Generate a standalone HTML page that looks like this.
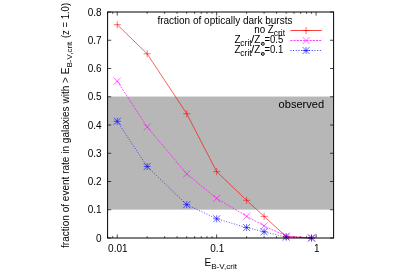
<!DOCTYPE html><html><head><meta charset="utf-8"><style>html,body{margin:0;padding:0;background:#fff}svg{display:block}svg{will-change:transform}text{font-family:"Liberation Sans",sans-serif;fill:#000}</style></head><body>
<svg width="400" height="280" viewBox="0 0 400 280">
<rect width="400" height="280" fill="#fff"/>
<rect x="107.6" y="96.55" width="226.00" height="113.10" fill="#b7b7b7"/>
<path d="M107.6 238.00h3.6M333.6 238.00h-3.6M107.6 209.75h3.6M333.6 209.75h-3.6M107.6 181.50h3.6M333.6 181.50h-3.6M107.6 153.25h3.6M333.6 153.25h-3.6M107.6 125.00h3.6M333.6 125.00h-3.6M107.6 96.75h3.6M333.6 96.75h-3.6M107.6 68.50h3.6M333.6 68.50h-3.6M107.6 40.25h3.6M333.6 40.25h-3.6M107.6 12.00h3.6M333.6 12.00h-3.6M107.60 238.0v-1.8M107.60 12.0v1.8M112.69 238.0v-1.8M112.69 12.0v1.8M117.24 238.0v-3.6M117.24 12.0v3.6M147.17 238.0v-1.8M147.17 12.0v1.8M164.67 238.0v-1.8M164.67 12.0v1.8M177.10 238.0v-1.8M177.10 12.0v1.8M186.73 238.0v-1.8M186.73 12.0v1.8M194.61 238.0v-1.8M194.61 12.0v1.8M201.26 238.0v-1.8M201.26 12.0v1.8M207.03 238.0v-1.8M207.03 12.0v1.8M212.11 238.0v-1.8M212.11 12.0v1.8M216.66 238.0v-3.6M216.66 12.0v3.6M246.59 238.0v-1.8M246.59 12.0v1.8M264.10 238.0v-1.8M264.10 12.0v1.8M276.53 238.0v-1.8M276.53 12.0v1.8M286.16 238.0v-1.8M286.16 12.0v1.8M294.03 238.0v-1.8M294.03 12.0v1.8M300.69 238.0v-1.8M300.69 12.0v1.8M306.46 238.0v-1.8M306.46 12.0v1.8M311.54 238.0v-1.8M311.54 12.0v1.8M316.09 238.0v-3.6M316.09 12.0v3.6" stroke="#000" stroke-width="0.7" fill="none"/>
<polyline points="117.24,24.71 147.17,53.81 186.73,113.70 216.66,171.61 246.59,200.29 264.10,216.39 286.16,236.59 311.54,238.00" fill="none" stroke="#ff0000" stroke-width="0.63"/>
<path d="M113.74 24.71h7.0M117.24 21.21v7.0" stroke="#ff0000" stroke-width="0.58" fill="none"/>
<path d="M143.67 53.81h7.0M147.17 50.31v7.0" stroke="#ff0000" stroke-width="0.58" fill="none"/>
<path d="M183.23 113.70h7.0M186.73 110.20v7.0" stroke="#ff0000" stroke-width="0.58" fill="none"/>
<path d="M213.16 171.61h7.0M216.66 168.11v7.0" stroke="#ff0000" stroke-width="0.58" fill="none"/>
<path d="M243.09 200.29h7.0M246.59 196.79v7.0" stroke="#ff0000" stroke-width="0.58" fill="none"/>
<path d="M260.60 216.39h7.0M264.10 212.89v7.0" stroke="#ff0000" stroke-width="0.58" fill="none"/>
<path d="M282.66 236.59h7.0M286.16 233.09v7.0" stroke="#ff0000" stroke-width="0.58" fill="none"/>
<path d="M308.04 238.00h7.0M311.54 234.50v7.0" stroke="#ff0000" stroke-width="0.58" fill="none"/>
<polyline points="117.24,81.21 147.17,126.98 186.73,173.87 216.66,198.45 246.59,216.25 264.10,225.85 286.16,236.02 311.54,238.00" fill="none" stroke="#ff00ff" stroke-width="0.63" stroke-dasharray="2.13 1.07"/>
<path d="M113.74 77.71l7.0 7.0M113.74 84.71l7.0 -7.0" stroke="#ff00ff" stroke-width="0.58" fill="none"/>
<path d="M143.67 123.48l7.0 7.0M143.67 130.48l7.0 -7.0" stroke="#ff00ff" stroke-width="0.58" fill="none"/>
<path d="M183.23 170.37l7.0 7.0M183.23 177.37l7.0 -7.0" stroke="#ff00ff" stroke-width="0.58" fill="none"/>
<path d="M213.16 194.95l7.0 7.0M213.16 201.95l7.0 -7.0" stroke="#ff00ff" stroke-width="0.58" fill="none"/>
<path d="M243.09 212.75l7.0 7.0M243.09 219.75l7.0 -7.0" stroke="#ff00ff" stroke-width="0.58" fill="none"/>
<path d="M260.60 222.35l7.0 7.0M260.60 229.35l7.0 -7.0" stroke="#ff00ff" stroke-width="0.58" fill="none"/>
<path d="M282.66 232.52l7.0 7.0M282.66 239.52l7.0 -7.0" stroke="#ff00ff" stroke-width="0.58" fill="none"/>
<path d="M308.04 234.50l7.0 7.0M308.04 241.50l7.0 -7.0" stroke="#ff00ff" stroke-width="0.58" fill="none"/>
<polyline points="117.24,121.33 147.17,166.53 186.73,204.67 216.66,218.79 246.59,227.55 264.10,231.78 286.16,237.15 311.54,238.00" fill="none" stroke="#0000ff" stroke-width="0.63" stroke-dasharray="1.07 1.6"/>
<path d="M113.74 121.33h7.0M117.24 117.83v7.0" stroke="#0000ff" stroke-width="0.58" fill="none"/><path d="M113.74 117.83l7.0 7.0M113.74 124.83l7.0 -7.0" stroke="#0000ff" stroke-width="0.58" fill="none"/>
<path d="M143.67 166.53h7.0M147.17 163.03v7.0" stroke="#0000ff" stroke-width="0.58" fill="none"/><path d="M143.67 163.03l7.0 7.0M143.67 170.03l7.0 -7.0" stroke="#0000ff" stroke-width="0.58" fill="none"/>
<path d="M183.23 204.67h7.0M186.73 201.17v7.0" stroke="#0000ff" stroke-width="0.58" fill="none"/><path d="M183.23 201.17l7.0 7.0M183.23 208.17l7.0 -7.0" stroke="#0000ff" stroke-width="0.58" fill="none"/>
<path d="M213.16 218.79h7.0M216.66 215.29v7.0" stroke="#0000ff" stroke-width="0.58" fill="none"/><path d="M213.16 215.29l7.0 7.0M213.16 222.29l7.0 -7.0" stroke="#0000ff" stroke-width="0.58" fill="none"/>
<path d="M243.09 227.55h7.0M246.59 224.05v7.0" stroke="#0000ff" stroke-width="0.58" fill="none"/><path d="M243.09 224.05l7.0 7.0M243.09 231.05l7.0 -7.0" stroke="#0000ff" stroke-width="0.58" fill="none"/>
<path d="M260.60 231.78h7.0M264.10 228.28v7.0" stroke="#0000ff" stroke-width="0.58" fill="none"/><path d="M260.60 228.28l7.0 7.0M260.60 235.28l7.0 -7.0" stroke="#0000ff" stroke-width="0.58" fill="none"/>
<path d="M282.66 237.15h7.0M286.16 233.65v7.0" stroke="#0000ff" stroke-width="0.58" fill="none"/><path d="M282.66 233.65l7.0 7.0M282.66 240.65l7.0 -7.0" stroke="#0000ff" stroke-width="0.58" fill="none"/>
<path d="M308.04 238.00h7.0M311.54 234.50v7.0" stroke="#0000ff" stroke-width="0.58" fill="none"/><path d="M308.04 234.50l7.0 7.0M308.04 241.50l7.0 -7.0" stroke="#0000ff" stroke-width="0.58" fill="none"/>
<path d="M290.4 30.5H321.7" stroke="#ff0000" stroke-width="0.75" fill="none"/>
<path d="M302.55 30.50h7.0M306.05 27.00v7.0" stroke="#ff0000" stroke-width="0.58" fill="none"/>
<path d="M290.4 40.5H321.7" stroke="#ff00ff" stroke-width="0.75" fill="none" stroke-dasharray="2.13 1.07"/>
<path d="M302.55 37.00l7.0 7.0M302.55 44.00l7.0 -7.0" stroke="#ff00ff" stroke-width="0.58" fill="none"/>
<path d="M290.4 50.5H321.7" stroke="#0000ff" stroke-width="0.75" fill="none" stroke-dasharray="1.07 1.6"/>
<path d="M302.55 50.50h7.0M306.05 47.00v7.0" stroke="#0000ff" stroke-width="0.58" fill="none"/><path d="M302.55 47.00l7.0 7.0M302.55 54.00l7.0 -7.0" stroke="#0000ff" stroke-width="0.58" fill="none"/>
<rect x="107.6" y="12.0" width="226.00" height="226.00" fill="none" stroke="#000" stroke-width="1"/>
<text x="101.6" y="241.60" font-size="10.0" text-anchor="end">0</text>
<text x="101.6" y="213.35" font-size="10.0" text-anchor="end">0.1</text>
<text x="101.6" y="185.10" font-size="10.0" text-anchor="end">0.2</text>
<text x="101.6" y="156.85" font-size="10.0" text-anchor="end">0.3</text>
<text x="101.6" y="128.60" font-size="10.0" text-anchor="end">0.4</text>
<text x="101.6" y="100.35" font-size="10.0" text-anchor="end">0.5</text>
<text x="101.6" y="72.10" font-size="10.0" text-anchor="end">0.6</text>
<text x="101.6" y="43.85" font-size="10.0" text-anchor="end">0.7</text>
<text x="101.6" y="15.60" font-size="10.0" text-anchor="end">0.8</text>
<text x="117.84" y="251.5" font-size="10.0" text-anchor="middle">0.01</text>
<text x="217.26" y="251.5" font-size="10.0" text-anchor="middle">0.1</text>
<text x="316.69" y="251.5" font-size="10.0" text-anchor="middle">1</text>
<text x="204.5" y="265.5" font-size="10.0">E<tspan font-size="8.1" dy="3.3">B-V,crit</tspan></text>
<g transform="translate(69.3 248) rotate(-90)">
<text x="0" y="0" font-size="10.0" textLength="180.4" lengthAdjust="spacing">fraction of event rate in galaxies with &gt; E</text>
<text x="180.4" y="3.1" font-size="8.1">B-V,crit</text>
<text x="245.1" y="0" font-size="10.0" text-anchor="end" textLength="35.2" lengthAdjust="spacingAndGlyphs">(z = 1.0)</text>
</g>
<text x="157.4" y="23.5" font-size="10.0">fraction of optically dark bursts</text>
<text x="324.2" y="107.6" font-size="11.1" text-anchor="end">observed</text>
<text x="254.2" y="32.5" font-size="10.0" textLength="19.6" lengthAdjust="spacingAndGlyphs">no Z</text><text x="273.8" y="36" font-size="8.4">crit</text>
<text x="234.5" y="42.5" font-size="10.0">Z</text>
<text x="240.3" y="45.6" font-size="8.5">crit</text>
<text x="250.9" y="42.5" font-size="10.0" textLength="3.4" lengthAdjust="spacingAndGlyphs">/</text><text x="254.3" y="42.5" font-size="10.0">Z</text>
<circle cx="262.8" cy="43.8" r="1.5" fill="none" stroke="#000" stroke-width="0.95"/><circle cx="262.8" cy="43.8" r="0.55" fill="#000"/>
<text x="283.3" y="42.5" font-size="10.0" text-anchor="end" textLength="18.8" lengthAdjust="spacingAndGlyphs">=0.5</text>
<text x="234.5" y="52.6" font-size="10.0">Z</text>
<text x="240.3" y="55.7" font-size="8.5">crit</text>
<text x="250.9" y="52.6" font-size="10.0" textLength="3.4" lengthAdjust="spacingAndGlyphs">/</text><text x="254.3" y="52.6" font-size="10.0">Z</text>
<circle cx="262.8" cy="53.9" r="1.5" fill="none" stroke="#000" stroke-width="0.95"/><circle cx="262.8" cy="53.9" r="0.55" fill="#000"/>
<text x="283.3" y="52.6" font-size="10.0" text-anchor="end" textLength="18.8" lengthAdjust="spacingAndGlyphs">=0.1</text>
</svg></body></html>
